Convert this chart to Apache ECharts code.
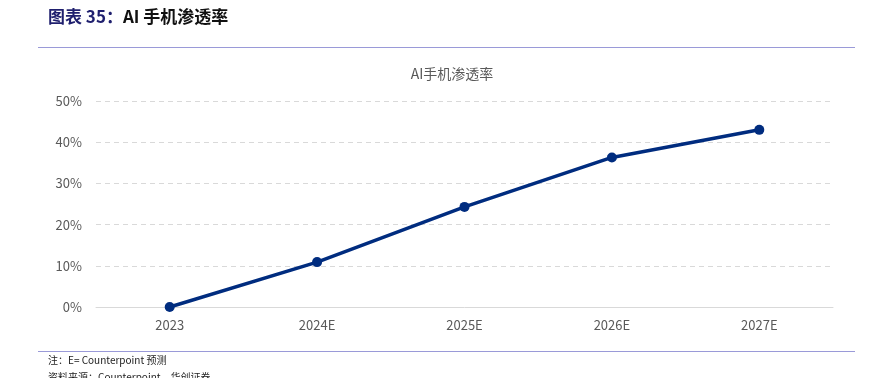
<!DOCTYPE html>
<html>
<head>
<meta charset="utf-8">
<script src="https://cdn.jsdelivr.net/npm/echarts@6/dist/echarts.min.js"></script>
<style>
  html, body { margin: 0; padding: 0; background: #fff; }
  #main { width: 877px; height: 378px; }
</style>
</head>
<body>
<div id="main"></div>
<script>
// AI手机渗透率
const years = ['2023', '2024E', '2025E', '2026E', '2027E'];
const penetration = [0, 10.9, 24.3, 36.3, 43.0];
const yTicks = [0, 10, 20, 30, 40, 50];

const chart = echarts.init(document.getElementById('main'));
const cjk = '"Noto Sans CJK SC", "Noto Sans", sans-serif';

const option = {
  backgroundColor: '#fff',
  title: {
    text: 'AI手机渗透率',
    left: 447,
    textAlign: 'center',
    top: 62,
    textStyle: { fontFamily: cjk, fontSize: 14, fontWeight: 'normal', color: '#595959' }
  },
  grid: { left: 96, right: 44, top: 101, bottom: 71, containLabel: false },
  xAxis: {
    type: 'category',
    data: years,
    boundaryGap: true,
    axisLine: { lineStyle: { color: '#d9d9d9', width: 1 } },
    axisTick: { show: false },
    axisLabel: { color: '#595959', fontSize: 13, fontFamily: cjk, margin: 12 }
  },
  yAxis: {
    type: 'value',
    min: yTicks[0],
    max: yTicks[yTicks.length - 1],
    interval: 10,
    axisLine: { show: false },
    axisTick: { show: false },
    axisLabel: { color: '#595959', fontSize: 13, fontFamily: cjk, margin: 14, formatter: '{value}%' },
    splitLine: { lineStyle: { color: '#d9d9d9', type: [5, 4], width: 1 } }
  },
  series: [{
    name: 'AI手机渗透率',
    type: 'line',
    data: penetration,
    symbol: 'circle',
    symbolSize: 10,
    lineStyle: { color: '#002c7f', width: 3.5 },
    itemStyle: { color: '#002c7f' },
    z: 5
  }],
  graphic: [
    {
      type: 'text', left: 48, top: 8,
      style: {
        text: '{a|图表 35：}{b|AI 手机渗透率}',
        rich: {
          a: { fontFamily: cjk, fontSize: 17, fontWeight: 'bold', fill: '#1f1f6e' },
          b: { fontFamily: cjk, fontSize: 17, fontWeight: 'bold', fill: '#111' }
        }
      }
    },
    { type: 'line', shape: { x1: 38, y1: 47.5, x2: 855, y2: 47.5 }, style: { stroke: '#9a9ad8', lineWidth: 1.2 } },
    { type: 'line', shape: { x1: 38, y1: 351.5, x2: 855, y2: 351.5 }, style: { stroke: '#9a9ad8', lineWidth: 1.2 } },
    {
      type: 'text', left: 48, top: 355,
      style: { text: '注：E= Counterpoint 预测', fontFamily: cjk, fontSize: 10, fill: '#222' }
    },
    {
      type: 'text', left: 48, top: 372,
      style: { text: '资料来源：Counterpoint，华创证券', fontFamily: cjk, fontSize: 10, fill: '#222' }
    }
  ]
};

chart.setOption(option);
</script>
</body>
</html>
